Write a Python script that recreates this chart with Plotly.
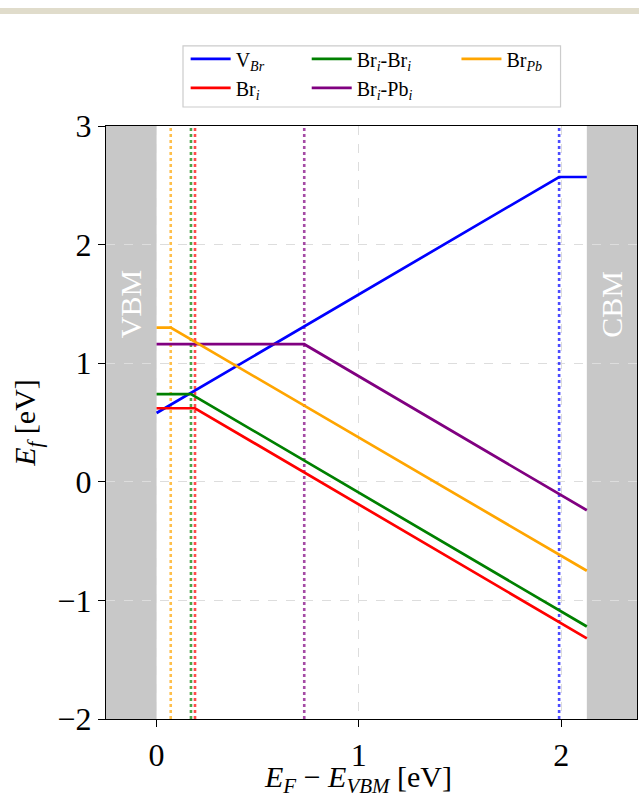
import plotly.graph_objects as go

# ---- data ----
names = ["V<sub><i>Br</i></sub>", "Br<sub><i>i</i></sub>", "Br<sub><i>i</i></sub>-Br<sub><i>i</i></sub>",
         "Br<sub><i>i</i></sub>-Pb<sub><i>i</i></sub>", "Br<sub><i>Pb</i></sub>"]
colors = ["blue", "red", "green", "purple", "orange"]
ef_at_vbm = [0.58, 0.62, 0.74, 1.16, 1.30]      # formation energy at E_F = 0
transition = [1.99, 0.19, 0.17, 0.73, 0.07]      # charge transition levels (kink position)
ef_at_kink = [2.57, 0.62, 0.74, 1.16, 1.30]
ef_at_cbm = [2.57, -1.32, -1.22, -0.24, -0.75]
band_gap = 2.127
legend_slot = ["legend", "legend", "legend2", "legend2", "legend3"]
legend_rank = [1, 2, 1, 2, 1]

x_range = [-0.25, 2.375]
y_range = [-2, 3]
x_ticks = [0, 1, 2]
y_ticks = [-2, -1, 0, 1, 2, 3]

FONT = "Liberation Serif"

fig = go.Figure()

# vertical dotted transition-level lines
for t, c in zip(transition, colors):
    fig.add_trace(go.Scatter(x=[t, t], y=y_range, mode="lines",
                             line=dict(color=c, width=2.6, dash="dot"),
                             opacity=0.7, showlegend=False, hoverinfo="skip"))

for n, c, a, t, k, b, lg, r in zip(names, colors, ef_at_vbm, transition, ef_at_kink,
                                   ef_at_cbm, legend_slot, legend_rank):
    fig.add_trace(go.Scatter(x=[0, t, band_gap], y=[a, k, b], mode="lines", name=n,
                             line=dict(color=c, width=2.7), legend=lg, legendrank=r))

shapes = [
    dict(type="rect", xref="x", yref="paper", x0=x_range[0], x1=0, y0=0, y1=1,
         fillcolor="#c8c8c8", line=dict(width=0), layer="below"),
    dict(type="rect", xref="x", yref="paper", x0=band_gap, x1=x_range[1], y0=0, y1=1,
         fillcolor="#c8c8c8", line=dict(width=0), layer="below"),
    # legend frame
    dict(type="rect", xref="paper", yref="paper", x0=0.145, x1=0.856, y0=1.032, y1=1.135,
         fillcolor="rgba(255,255,255,0.8)", line=dict(color="#cccccc", width=1.2), layer="below"),
    # page stripe at the top
    dict(type="rect", xref="paper", yref="paper", x0=-0.25, x1=1.05, y0=1.189, y1=1.199,
         fillcolor="#e0dccb", line=dict(width=0)),
]

annotations = [
    dict(x=x_range[0] / 2, y=1.5, xref="x", yref="y", text="VBM", textangle=-90,
         showarrow=False, font=dict(family=FONT, size=30, color="white")),
    dict(x=(band_gap + x_range[1]) / 2, y=1.5, xref="x", yref="y", text="CBM", textangle=-90,
         showarrow=False, font=dict(family=FONT, size=30, color="white")),
    # x-axis title
    dict(x=0.474, y=-0.102, xref="paper", yref="paper", xanchor="center", yanchor="middle",
         text="<i>E<sub>F</sub></i> − <i>E<sub>VBM</sub></i> [eV]", showarrow=False,
         font=dict(family=FONT, size=30, color="black")),
]

leg_common = dict(orientation="v", yanchor="top", y=1.146, xanchor="left",
                  bgcolor="rgba(0,0,0,0)", borderwidth=0, itemwidth=40,
                  font=dict(family=FONT, size=20, color="black"), tracegroupgap=0)

fig.update_layout(
    width=639, height=797,
    margin=dict(l=106, r=2, t=126, b=78, autoexpand=False),
    paper_bgcolor="white", plot_bgcolor="white",
    font=dict(family=FONT, color="black"),
    shapes=shapes, annotations=annotations,
    legend=dict(x=0.150, **leg_common),
    legend2=dict(x=0.378, **leg_common),
    legend3=dict(x=0.660, **leg_common),
    xaxis=dict(range=x_range, tickvals=x_ticks, ticks="outside", ticklen=7, tickwidth=1.3,
               tickcolor="black", tickfont=dict(family=FONT, size=32), automargin=False,
               showline=True, linecolor="black", linewidth=1.4, mirror=True,
               showgrid=True, gridcolor="#dddddd", griddash="dash", gridwidth=1, zeroline=False),
    yaxis=dict(range=y_range, tickvals=y_ticks, ticks="outside", ticklen=7, tickwidth=1.3,
               tickcolor="black", tickfont=dict(family=FONT, size=32), automargin=False,
               showline=True, linecolor="black", linewidth=1.4, mirror=True,
               showgrid=True, gridcolor="#dddddd", griddash="dash", gridwidth=1, zeroline=False,
               title=dict(text="<i>E<sub>f</sub></i> [eV]", font=dict(family=FONT, size=30),
                          standoff=12)),
)

fig.write_html("out.html")
